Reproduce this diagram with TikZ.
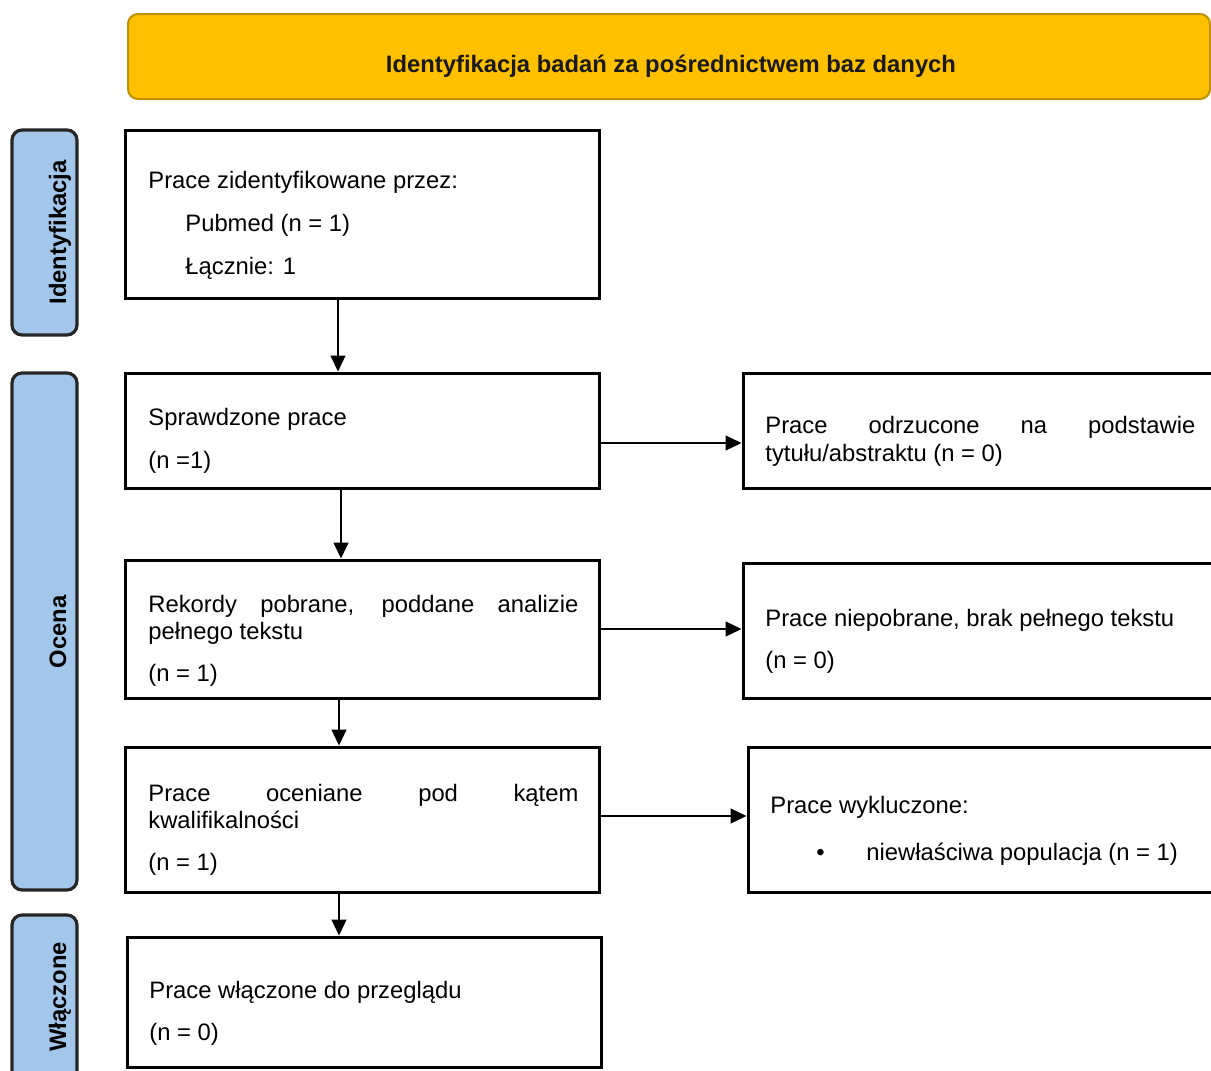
\documentclass[tikz,border=0pt]{standalone}
\usepackage{fontspec}
\setmainfont{Liberation Sans}
\usetikzlibrary{arrows.meta}

\definecolor{hdrfill}{HTML}{FFC000}
\definecolor{hdrline}{HTML}{BF9000}
\definecolor{lblfill}{HTML}{A3C7EA}

\tikzset{
	stagebox/.style={draw=black, line width=1.5pt, minimum width=237pt, inner sep=0pt},
	sidelabel/.style={draw=black!85, line width=1.6pt, fill=lblfill, rounded corners=5pt, minimum width=32.5pt, inner sep=0pt},
	txt/.style={anchor=base west, inner sep=0pt, font=\fontsize{11.9pt}{13.5pt}\selectfont},
	sidetxt/.style={anchor=base, rotate=90, inner sep=0pt, font=\fontsize{11.9pt}{13.5pt}\selectfont\bfseries},
	flow/.style={draw=black, line width=0.6pt, -{Triangle[length=8pt,width=7.5pt]}},
}

\begin{document}
\begin{tikzpicture}[x=0.5pt,y=0.5pt,yscale=-1]
		\useasboundingbox (0,0) rectangle (1211,1071);
		
		%Header
		\node [draw=hdrline, line width=1pt, fill=hdrfill, rounded corners=5pt, minimum width=541pt, minimum height=42.5pt, inner sep=0pt] (header) at (669,56.5) {};
		\node [anchor=base, inner sep=0pt, font=\fontsize{11.9pt}{13.5pt}\selectfont\bfseries, text=black!90] (headertxt) at (671,72) {Identyfikacja badań za pośrednictwem baz danych};
		
		%Side labels
		\node [sidelabel, minimum height=102.5pt] (lblident) at (44.5,232.5) {};
		\node [sidetxt] (lblidenttxt) at (66,232.5) {Identyfikacja};
		\node [sidelabel, minimum height=258.5pt] (lblscreen) at (44.5,631.5) {};
		\node [sidetxt] (lblscreentxt) at (66,632) {Ocena};
		\node [sidelabel, minimum height=90pt] (lblincl) at (44.5,1005) {};
		\node [sidetxt] (lblincltxt) at (66,997) {Włączone};
		
		%Left column
		\node [stagebox, minimum height=84pt] (ident) at (362,214) {};
		\node [stagebox, minimum height=57.5pt] (screen) at (362,430.5) {};
		\node [stagebox, minimum height=69pt] (fulltext) at (362,629) {};
		\node [stagebox, minimum height=72.5pt] (elig) at (362,819.5) {};
		\node [stagebox, minimum height=65pt] (incl) at (364,1002) {};
		
		%Right column
		\node [stagebox, minimum height=57.5pt] (exclabs) at (980,430.5) {};
		\node [stagebox, minimum height=67.5pt] (exclfull) at (980,630.5) {};
		\node [stagebox, minimum height=72.5pt] (exclelig) at (985,819.5) {};
		
		%Arrows
		\draw [flow] ([xshift=-12pt]ident.south) -- ([xshift=-12pt]screen.north);
		\draw [flow] ([xshift=-10.5pt]screen.south) -- ([xshift=-10.5pt]fulltext.north);
		\draw [flow] ([xshift=-11.5pt]fulltext.south) -- ([xshift=-11.5pt]elig.north);
		\draw [flow] ([xshift=-11.5pt]elig.south) -- ([xshift=-12.5pt]incl.north);
		\draw [flow] ([yshift=6.25pt]screen.east) -- ([yshift=6.25pt]exclabs.west);
		\draw [flow] (fulltext.east) -- (fulltext.east -| exclfull.west);
		\draw [flow] ([yshift=-1.75pt]elig.east) -- ([yshift=-1.75pt]exclelig.west);
		
		% Text Node
		\node [txt] (identa) at (148,188) {Prace zidentyfikowane przez:};
		\node [txt] (identb) at (185,231) {Pubmed (n = 1)};
		\node [txt] (identc) at (185,274) {Łącznie: 1};
		% Text Node
		\node [txt] (screena) at (148,425) {Sprawdzone prace};
		\node [txt] (screenb) at (148,468) {(n =1)};
		% Text Node
		\node [txt] (fulltexta) at (148,612) {\makebox[215pt][s]{Rekordy pobrane, poddane analizie}};
		\node [txt] (fulltextb) at (148,639) {pełnego tekstu};
		\node [txt] (fulltextc) at (148,681) {(n = 1)};
		% Text Node
		\node [txt] (eliga) at (148,801) {\makebox[215pt][s]{Prace oceniane pod kątem}};
		\node [txt] (eligb) at (148,828) {kwalifikalności};
		\node [txt] (eligc) at (148,870) {(n = 1)};
		% Text Node
		\node [txt] (incla) at (149,998) {Prace włączone do przeglądu};
		\node [txt] (inclb) at (149,1040) {(n = 0)};
		% Text Node
		\node [txt] (exclabsa) at (765,433) {\makebox[215pt][s]{Prace odrzucone na podstawie}};
		\node [txt] (exclabsb) at (765,461) {tytułu/abstraktu (n = 0)};
		% Text Node
		\node [txt] (exclfulla) at (765,626) {Prace niepobrane, brak pełnego tekstu};
		\node [txt] (exclfullb) at (765,668) {(n = 0)};
		% Text Node
		\node [txt] (excleliga) at (770,813) {Prace wykluczone:};
		\node [txt] (exclbullet) at (816,860) {•};
		\node [txt] (excleligb) at (866,860) {niewłaściwa populacja (n = 1)};
		
\end{tikzpicture}
\end{document}
